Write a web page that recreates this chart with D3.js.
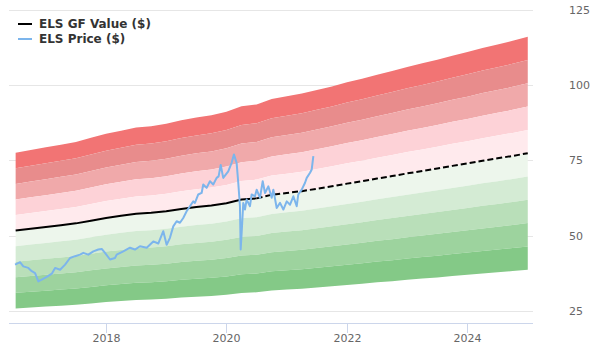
<!DOCTYPE html>
<html><head><meta charset="utf-8">
<script src="https://cdn.jsdelivr.net/npm/d3@7"></script>
<style>body{margin:0;background:#fff}svg{display:block;font-family:"DejaVu Sans",sans-serif}</style>
</head><body><svg id="c" width="600" height="360"></svg>
<script>
// GF Value (quarterly, decimal years)
const gfYears = [2016.5,2016.75,2017,2017.25,2017.5,2017.75,2018,2018.25,2018.5,2018.75,2019,2019.25,2019.5,2019.75,2020,2020.25,2020.5,2020.75,2021,2021.25,2021.5,2021.75,2022,2022.25,2022.5,2022.75,2023,2023.25,2023.5,2023.75,2024,2024.25,2024.5,2024.75,2025];
const gfValues = [51.7,52.3,52.9,53.5,54.1,55.0,55.9,56.6,57.3,57.6,58.1,58.9,59.5,60.0,60.8,62.0,62.4,63.6,64.2,64.8,65.6,66.4,67.3,68.1,69.0,69.8,70.7,71.5,72.3,73.2,74.0,74.9,75.7,76.5,77.4];
const gfDashFrom = 2020.5;
// Price
const priceYears = [2016.490,2016.573,2016.627,2016.710,2016.767,2016.822,2016.876,2016.933,2017.016,2017.099,2017.154,2017.237,2017.320,2017.402,2017.485,2017.568,2017.623,2017.706,2017.789,2017.872,2017.929,2017.983,2018.066,2018.149,2018.177,2018.287,2018.398,2018.481,2018.564,2018.676,2018.785,2018.868,2018.951,2019.007,2019.062,2019.117,2019.173,2019.228,2019.283,2019.339,2019.394,2019.449,2019.477,2019.532,2019.588,2019.615,2019.671,2019.726,2019.781,2019.837,2019.870,2019.905,2019.947,2020.030,2020.086,2020.124,2020.169,2020.196,2020.224,2020.236,2020.252,2020.279,2020.307,2020.335,2020.390,2020.418,2020.473,2020.501,2020.556,2020.601,2020.639,2020.694,2020.750,2020.777,2020.833,2020.888,2020.943,2020.999,2021.054,2021.109,2021.165,2021.191,2021.248,2021.303,2021.331,2021.386,2021.414,2021.441];
const priceValues = [40.4,41.2,39.8,39.3,38.2,37.6,34.8,35.4,36.3,37.4,39.3,38.7,40.4,42.6,43.2,43.7,44.3,43.7,44.8,45.4,45.6,44.3,42.1,42.6,43.7,44.8,46.0,45.4,46.5,46.0,48.1,47.4,51.5,47.0,49.3,53.1,54.8,54.3,55.9,58.1,59.8,61.4,60.9,63.7,64.2,67.0,65.9,68.1,67.0,69.2,69.7,73.5,69.2,71.4,74.2,77.0,74.2,67.6,59.8,45.4,50.9,60.9,58.7,62.0,59.8,63.7,63.1,65.3,62.6,68.1,64.2,66.4,62.6,65.3,59.2,60.9,58.7,61.4,60.3,63.1,59.8,63.7,65.3,67.6,69.2,70.9,72.0,76.4];
const bandFactors = [1.5,1.4,1.3,1.2,1.1,1.0,0.9,0.8,0.7,0.6,0.5];
const bandColors = ["#f27474","#e88c8c","#f0a9aa","#fdd2d7","#ffeaed","#edf6ec","#d4ebd4","#b9dfb9","#9dd39e","#84c987"];
const yTicks = [25,50,75,100,125];
const xTickYears = [2018,2020,2022,2024];
const legendLabels = ["ELS GF Value ($)","ELS Price ($)"];

function yd(y){const yr=Math.floor(y);const s=new Date(yr,0,1),e=new Date(yr+1,0,1);return new Date(+s+(y-yr)*(e-s));}

const svg = d3.select("#c");
const x = d3.scaleTime().domain([yd(2016.39), yd(2025.087)]).range([9,533]);
const y = d3.scaleLinear().domain([21,128.3]).range([323,0]);

// grid
svg.append("g").selectAll("line").data(yTicks).join("line")
  .attr("x1",9).attr("x2",533).attr("y1",d=>Math.round(y(d))+0.5).attr("y2",d=>Math.round(y(d))+0.5)
  .attr("stroke","#e6e6e6").attr("stroke-width",1);

// bands
const gf = gfYears.map((t,i)=>({d:yd(t),v:gfValues[i]}));
const g = svg.append("g");
for(let k=0;k<bandColors.length;k++){
  const hi=bandFactors[k], lo=bandFactors[k+1];
  g.append("path").datum(gf)
   .attr("d", d3.area().x(p=>x(p.d)).y0(p=>y(p.v*lo)).y1(p=>y(p.v*hi)))
   .attr("fill", bandColors[k]);
}

// GF value line
const line = d3.line().x(p=>x(p.d)).y(p=>y(p.v));
const splitD = yd(gfDashFrom);
svg.append("path").datum(gf.filter(p=>p.d<=splitD)).attr("d",line)
  .attr("fill","none").attr("stroke","#000").attr("stroke-width",2);
svg.append("path").datum(gf.filter(p=>p.d>=splitD)).attr("d",line)
  .attr("fill","none").attr("stroke","#000").attr("stroke-width",2).attr("stroke-dasharray","6,3");

// price
const price = priceYears.map((t,i)=>({d:yd(t),v:priceValues[i]}));
svg.append("path").datum(price).attr("d",line)
  .attr("fill","none").attr("stroke","#7cb5ec").attr("stroke-width",2).attr("stroke-linejoin","round");

// x axis
svg.append("line").attr("x1",9).attr("x2",533).attr("y1",323.5).attr("y2",323.5).attr("stroke","#ccd6eb");
const xt = svg.append("g");
xTickYears.forEach(t=>{
  const px=Math.round(x(yd(t)))+0.5;
  xt.append("line").attr("x1",px).attr("x2",px).attr("y1",323).attr("y2",333).attr("stroke","#ccd6eb");
  xt.append("text").attr("x",px).attr("y",342).attr("text-anchor","middle")
    .attr("font-size",11).attr("fill","#666").text(t);
});
// y labels
svg.append("g").selectAll("text").data(yTicks).join("text")
  .attr("x",569).attr("y",d=>y(d)).attr("dy","0.35em").attr("font-size",11).attr("fill","#666").text(d=>d);

// legend
const lg = svg.append("g");
[["#000",24],["#7cb5ec",39]].forEach(([c,yy],i)=>{
  lg.append("line").attr("x1",18).attr("x2",32).attr("y1",yy).attr("y2",yy).attr("stroke",c).attr("stroke-width",2);
  lg.append("text").attr("x",39).attr("y",yy).attr("dy","0.35em").attr("font-size",12).attr("font-weight","bold")
    .attr("fill","#333").text(legendLabels[i]);
});
</script></body></html>
